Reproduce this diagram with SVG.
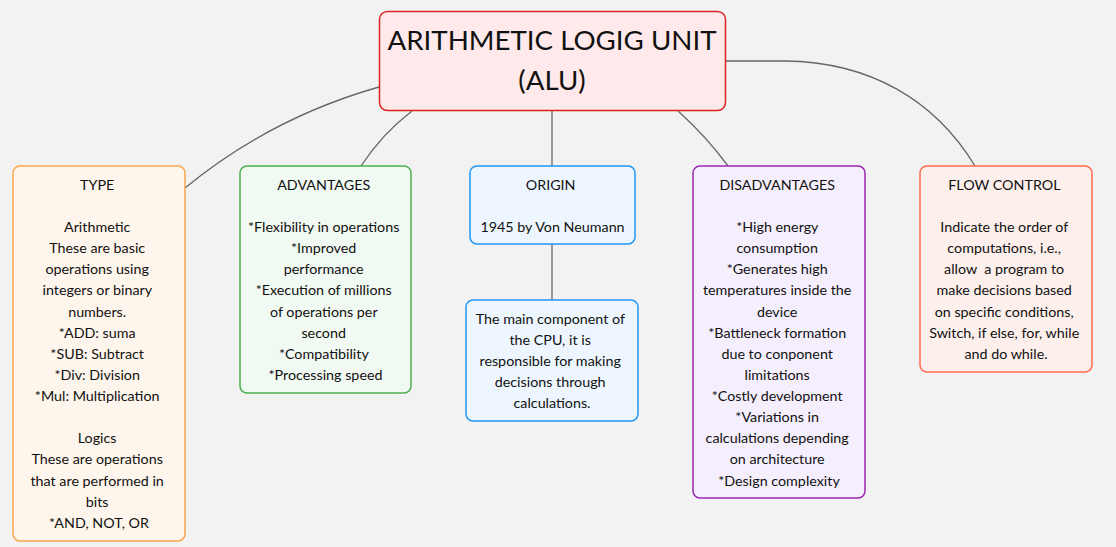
<svg xmlns="http://www.w3.org/2000/svg" width="1116" height="547" viewBox="0 0 1116 547">
<style>
.t{font-family:Lato,"Noto Sans",sans-serif;font-size:14.3px;fill:#111;text-anchor:middle}
.h{font-family:Lato,"Noto Sans",sans-serif;font-size:27.7px;fill:#111;text-anchor:middle}
.c{fill:none;stroke:#666;stroke-width:1.3}
</style>
<rect width="1116" height="547" fill="#f2f2f2"/>
<g id="connectors">
<path class="c" d="M379,87 Q270,118 185,188"/>
<path class="c" d="M412,111 Q382,134 361,166"/>
<path class="c" d="M552,111 L552,166"/>
<path class="c" d="M552,244 L552,300"/>
<path class="c" d="M678,111 Q706,136 728,166"/>
<path class="c" d="M725,61 L785,61 C870,62 935,100 975,166"/>
</g>
<g id="root">
<rect x="379.5" y="11.5" width="346" height="99" rx="8" fill="#ffe9ea" stroke="#d9231f" stroke-width="1.5"/>
<text class="h" x="552" y="50">ARITHMETIC LOGIG UNIT</text>
<text class="h" x="552" y="90">(ALU)</text>
</g>
<g id="type">
<rect x="13" y="166" width="172" height="375" rx="7" fill="#fef5ec" stroke="#f9a64a" stroke-width="1.5"/>
<text class="t" x="99">
<tspan x="99" y="190">TYPE</tspan>
<tspan x="99" y="232">Arithmetic</tspan>
<tspan x="99" y="253">These are basic</tspan>
<tspan x="99" y="274">operations using</tspan>
<tspan x="99" y="295">integers or binary</tspan>
<tspan x="99" y="317">numbers.</tspan>
<tspan x="99" y="338">*ADD: suma</tspan>
<tspan x="99" y="359">*SUB: Subtract</tspan>
<tspan x="99" y="380">*Div: Division</tspan>
<tspan x="99" y="401">*Mul: Multiplication</tspan>
<tspan x="99" y="443">Logics</tspan>
<tspan x="99" y="464">These are operations</tspan>
<tspan x="99" y="486">that are performed in</tspan>
<tspan x="99" y="507">bits</tspan>
<tspan x="99" y="528">*AND, NOT, OR</tspan>
</text>
</g>
<g id="advantages">
<rect x="240" y="166" width="171" height="227" rx="7" fill="#f1f9f3" stroke="#4caf50" stroke-width="1.5"/>
<text class="t">
<tspan x="325.5" y="190">ADVANTAGES</tspan>
<tspan x="325.5" y="232">*Flexibility in operations</tspan>
<tspan x="325.5" y="253">*Improved</tspan>
<tspan x="325.5" y="274">performance</tspan>
<tspan x="325.5" y="295">*Execution of millions</tspan>
<tspan x="325.5" y="317">of operations per</tspan>
<tspan x="325.5" y="338">second</tspan>
<tspan x="325.5" y="359">*Compatibility</tspan>
<tspan x="325.5" y="380">*Processing speed</tspan>
</text>
</g>
<g id="origin">
<rect x="470" y="166" width="165" height="78" rx="7" fill="#edf6fe" stroke="#2196f3" stroke-width="1.5"/>
<text class="t">
<tspan x="552.5" y="190">ORIGIN</tspan>
<tspan x="552.5" y="232">1945 by Von Neumann</tspan>
</text>
</g>
<g id="component">
<rect x="466" y="300" width="172" height="121" rx="7" fill="#edf6fe" stroke="#2196f3" stroke-width="1.5"/>
<text class="t">
<tspan x="552" y="324">The main component of</tspan>
<tspan x="552" y="345">the CPU, it is</tspan>
<tspan x="552" y="366">responsible for making</tspan>
<tspan x="552" y="387">decisions through</tspan>
<tspan x="552" y="408">calculations.</tspan>
</text>
</g>
<g id="disadvantages">
<rect x="693" y="166" width="172" height="332" rx="7" fill="#f5effd" stroke="#9c27b0" stroke-width="1.5"/>
<text class="t">
<tspan x="779" y="190">DISADVANTAGES</tspan>
<tspan x="779" y="232">*High energy</tspan>
<tspan x="779" y="253">consumption</tspan>
<tspan x="779" y="274">*Generates high</tspan>
<tspan x="779" y="295">temperatures inside the</tspan>
<tspan x="779" y="317">device</tspan>
<tspan x="779" y="338">*Battleneck formation</tspan>
<tspan x="779" y="359">due to conponent</tspan>
<tspan x="779" y="380">limitations</tspan>
<tspan x="779" y="401">*Costly development</tspan>
<tspan x="779" y="422">*Variations in</tspan>
<tspan x="779" y="443">calculations depending</tspan>
<tspan x="779" y="464">on architecture</tspan>
<tspan x="779" y="486">*Design complexity</tspan>
</text>
</g>
<g id="flowcontrol">
<rect x="920" y="166" width="172" height="206" rx="7" fill="#fdf0ec" stroke="#ff6b4f" stroke-width="1.5"/>
<text class="t">
<tspan x="1006" y="190">FLOW CONTROL</tspan>
<tspan x="1006" y="232">Indicate the order of</tspan>
<tspan x="1006" y="253">computations, i.e.,</tspan>
<tspan x="1006" y="274" xml:space="preserve">allow  a program to</tspan>
<tspan x="1006" y="295">make decisions based</tspan>
<tspan x="1006" y="317">on specific conditions,</tspan>
<tspan x="1006" y="338">Switch, if else, for, while</tspan>
<tspan x="1006" y="359">and do while.</tspan>
</text>
</g>
</svg>
